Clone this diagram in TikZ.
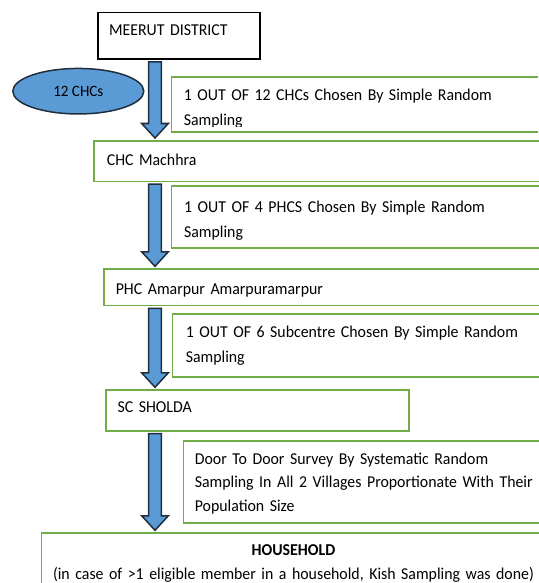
\documentclass[tikz,border=0pt]{standalone}
\usepackage{fontspec}
\setmainfont{Carlito}[FakeStretch=0.955]
\usetikzlibrary{calc,shapes.geometric}

\definecolor{boxgreen}{HTML}{70AD47}
\definecolor{arrowblue}{HTML}{5B9BD5}
\definecolor{arrowedge}{HTML}{1F2F40}

\newcommand{\blockarrow}[2]{%
\path[flowarrow] let \p1=(#1), \p2=(#2) in
  (\x1-6.3pt,\y1-2pt) -- (\x1+6.3pt,\y1-2pt) -- (\x1+6.3pt,\y2+16.5pt) -- (\x1+13.3pt,\y2+16.5pt)
  -- (\x1,\y2+2pt) -- (\x1-13.3pt,\y2+16.5pt) -- (\x1-6.3pt,\y2+16.5pt) -- cycle;}

\begin{document}
\begin{tikzpicture}[x=1pt,y=-1pt,
  stage/.style={draw=boxgreen,line width=1.6pt,fill=white,anchor=north west,inner ysep=0pt,
                align=left,font=\fontsize{16.6}{25}\selectfont},
  chcs/.style={ellipse,draw=arrowedge,fill=arrowblue,line width=1.5pt,inner sep=0pt,
               minimum width=131pt,minimum height=45.5pt,font=\fontsize{15.8}{18}\selectfont},
  flowarrow/.style={draw=arrowedge,fill=arrowblue,line width=1.5pt,line join=miter}]

\useasboundingbox (0,0) rectangle (538,583);

\node[stage,draw=black,text width=140pt,inner xsep=11pt,text height=23.3pt,text depth=23.3pt]
  (district) at (97.3,11.7) {MEERUT DISTRICT};
\node[chcs] (chcs) at (78.3,91.2) {12 CHCs\hspace{11pt}};

\begin{scope}[even odd rule]
\clip (0,0) rectangle (538,583) (172,126.5) rectangle (540,129.9);
\node[stage,text width=360pt,inner xsep=12.3pt,text height=24pt,text depth=31pt]
  (note1) at (170.7,76) {1 OUT OF 12 CHCs Chosen By Simple Random\\Sampling};
\end{scope}

\node[stage,text width=440pt,inner xsep=12.7pt,text height=25pt,text depth=15.5pt]
  (chc) at (93.3,140) {CHC Machhra};
\node[stage,text width=360pt,inner xsep=12.6pt,text height=26.7pt,text depth=35.6pt]
  (note2) at (170.7,185) {1 OUT OF 4 PHCS Chosen By Simple Random\\Sampling};
\node[stage,text width=430pt,inner xsep=11.7pt,text height=25pt,text depth=11.4pt]
  (phc) at (103.3,268.3) {PHC Amarpur Amarpuramarpur};
\node[stage,text width=360pt,inner xsep=13.3pt,text height=23.4pt,text depth=39.3pt]
  (note3) at (171.7,313.3) {1 OUT OF 6 Subcentre Chosen By Simple Random\\Sampling};
\node[stage,text width=279.6pt,inner xsep=11.7pt,text height=22.4pt,text depth=18.3pt]
  (sc) at (105,389.3) {SC SHOLDA};
\node[stage,text width=380pt,inner xsep=11.3pt,text height=23.3pt,text depth=59pt,
      font=\fontsize{16.6}{23.5}\selectfont]
  (note4) at (182.7,440) {Door To Door Survey By Systematic Random\\Sampling In All 2 Villages Proportionate With Their\\Population Size};
\node[stage,text width=494pt,inner xsep=5pt,text height=22.7pt,text depth=60pt,align=center,
      font=\fontsize{16.6}{23.3}\selectfont]
  (house) at (40.7,532.3) {\textbf{HOUSEHOLD}\\(in case of >1 eligible member in a household, Kish Sampling was done)};

\coordinate (axis) at (155,0);
\blockarrow{district.south -| axis}{chc.north -| axis}
\blockarrow{chc.south -| axis}{phc.north -| axis}
\blockarrow{phc.south -| axis}{sc.north -| axis}
\blockarrow{sc.south -| axis}{house.north -| axis}
\end{tikzpicture}
\end{document}
